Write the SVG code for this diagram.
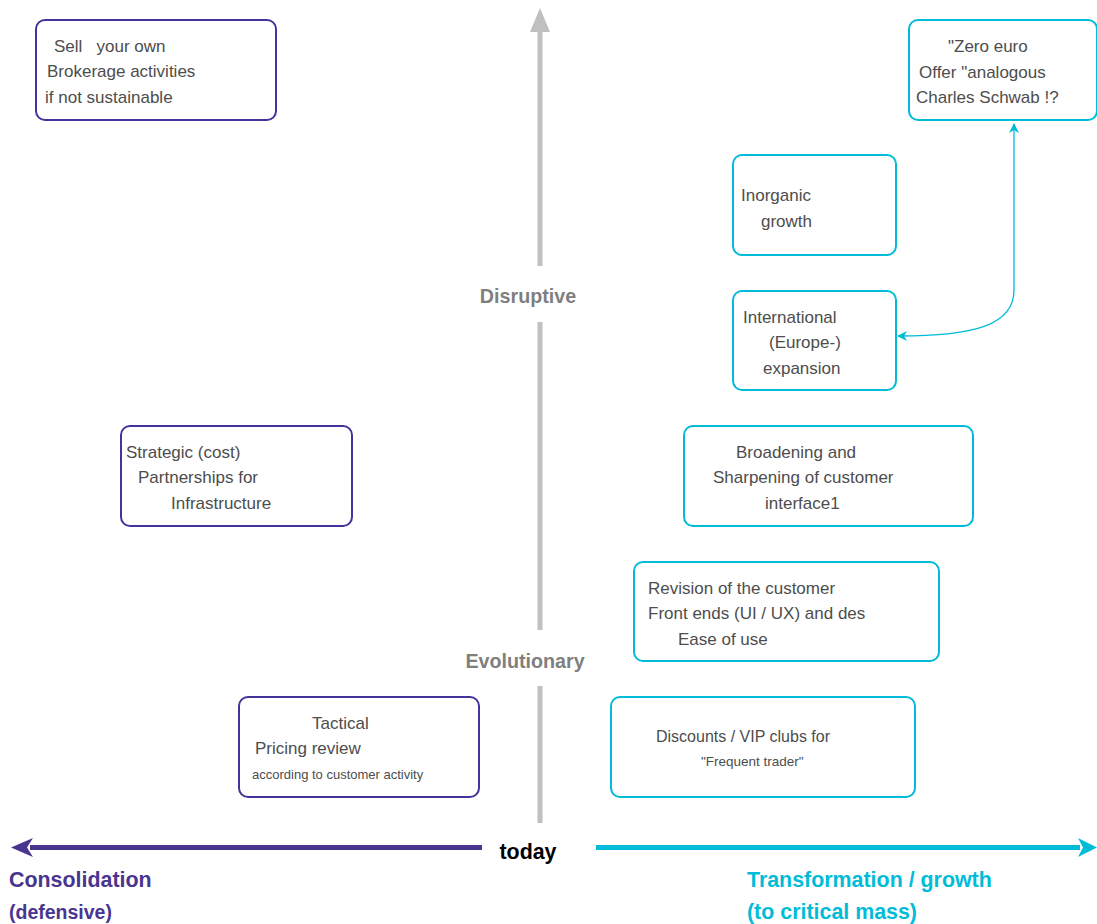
<svg xmlns="http://www.w3.org/2000/svg" width="1097" height="924" viewBox="0 0 1097 924">
<style>
text{font-family:"Liberation Sans",Arial,sans-serif;}
.t{font-size:17px;fill:#4d4d4d;}
.s{font-size:13px;fill:#4d4d4d;}
.p{fill:#fff;stroke:#44339a;stroke-width:2;}
.c{fill:#fff;stroke:#00bcd9;stroke-width:2;}
.lab{font-size:19.7px;font-weight:bold;fill:#7f7f7f;}
.big{font-size:21.4px;font-weight:bold;}
</style>
<defs>
<marker id="ah" markerWidth="10" markerHeight="10" refX="9" refY="5" orient="auto" markerUnits="userSpaceOnUse">
<path d="M0,0 L10,5 L0,10 L3,5 Z" fill="#00bcd9"/>
</marker>
</defs>
<g id="axes">
<rect x="537.5" y="28" width="5" height="238" fill="#c0c0c0"/>
<path d="M540,8 L550,32 L530,32 Z" fill="#c0c0c0"/>
<rect x="537.5" y="322" width="5" height="308" fill="#c0c0c0"/>
<rect x="537.5" y="686" width="5" height="137" fill="#c0c0c0"/>
<rect x="30" y="845" width="452" height="5" fill="#48358f"/>
<path d="M11,847.5 L33,838 L27,847.5 L33,857 Z" fill="#48358f"/>
<rect x="596" y="845" width="484" height="5" fill="#00bcd9"/>
<path d="M1097,847.5 L1078,838 L1083,847.5 L1078,857 Z" fill="#00bcd9"/>
<text x="528" y="303" class="lab" text-anchor="middle">Disruptive</text>
<text x="525" y="668" class="lab" text-anchor="middle">Evolutionary</text>
<text x="528" y="859" class="big" fill="#000" text-anchor="middle">today</text>
<text x="9" y="887" class="big" fill="#48358f">Consolidation</text>
<text x="9" y="919" font-size="19.5" font-weight="bold" fill="#48358f">(defensive)</text>
<text x="747" y="887" class="big" fill="#00bcd9">Transformation / growth</text>
<text x="747" y="919" class="big" fill="#00bcd9">(to critical mass)</text>
</g>
<g id="n-sell">
<rect x="36" y="20" width="240" height="100" rx="9" class="p"/>
<text x="54" y="52" class="t" xml:space="preserve">Sell   your own</text>
<text x="47" y="77" class="t">Brokerage activities</text>
<text x="45" y="103" class="t">if not sustainable</text>
</g>
<g id="n-zero">
<rect x="909" y="20" width="188" height="100" rx="9" class="c"/>
<text x="948" y="52" class="t">"Zero euro</text>
<text x="919" y="78" class="t">Offer "analogous</text>
<text x="916" y="103" class="t">Charles Schwab !?</text>
</g>
<g id="n-inorganic">
<rect x="733" y="155" width="163" height="100" rx="9" class="c"/>
<text x="741" y="201" class="t">Inorganic</text>
<text x="761" y="227" class="t">growth</text>
</g>
<g id="n-international">
<rect x="733" y="291" width="163" height="99" rx="9" class="c"/>
<text x="743" y="323" class="t">International</text>
<text x="769" y="348" class="t">(Europe-)</text>
<text x="763" y="374" class="t">expansion</text>
</g>
<g id="n-strategic">
<rect x="121" y="426" width="231" height="100" rx="9" class="p"/>
<text x="126" y="458" class="t">Strategic (cost)</text>
<text x="138" y="483" class="t">Partnerships for</text>
<text x="171" y="509" class="t">Infrastructure</text>
</g>
<g id="n-broadening">
<rect x="684" y="426" width="289" height="100" rx="9" class="c"/>
<text x="736" y="458" class="t">Broadening and</text>
<text x="713" y="483" class="t">Sharpening of customer</text>
<text x="765" y="509" class="t">interface1</text>
</g>
<g id="n-revision">
<rect x="634" y="562" width="305" height="99" rx="9" class="c"/>
<text x="648" y="594" class="t">Revision of the customer</text>
<text x="648" y="619" class="t">Front ends (UI / UX) and des</text>
<text x="678" y="645" class="t">Ease of use</text>
</g>
<g id="n-tactical">
<rect x="239" y="697" width="240" height="100" rx="9" class="p"/>
<text x="312" y="729" class="t">Tactical</text>
<text x="255" y="754" class="t">Pricing review</text>
<text x="252" y="779" class="s">according to customer activity</text>
</g>
<g id="n-discounts">
<rect x="611" y="697" width="304" height="100" rx="9" class="c"/>
<text x="656" y="742" font-size="16" fill="#4d4d4d">Discounts / VIP clubs for</text>
<text x="701" y="766" font-size="13.5" fill="#4d4d4d">"Frequent trader"</text>
</g>
<g id="connectors">
<path d="M1014,290 L1014,124" fill="none" stroke="#00bcd9" stroke-width="1.3" marker-end="url(#ah)"/>
<path d="M1014,290 C1014,325 975,336 898,336" fill="none" stroke="#00bcd9" stroke-width="1.3" marker-end="url(#ah)"/>
</g>
</svg>
